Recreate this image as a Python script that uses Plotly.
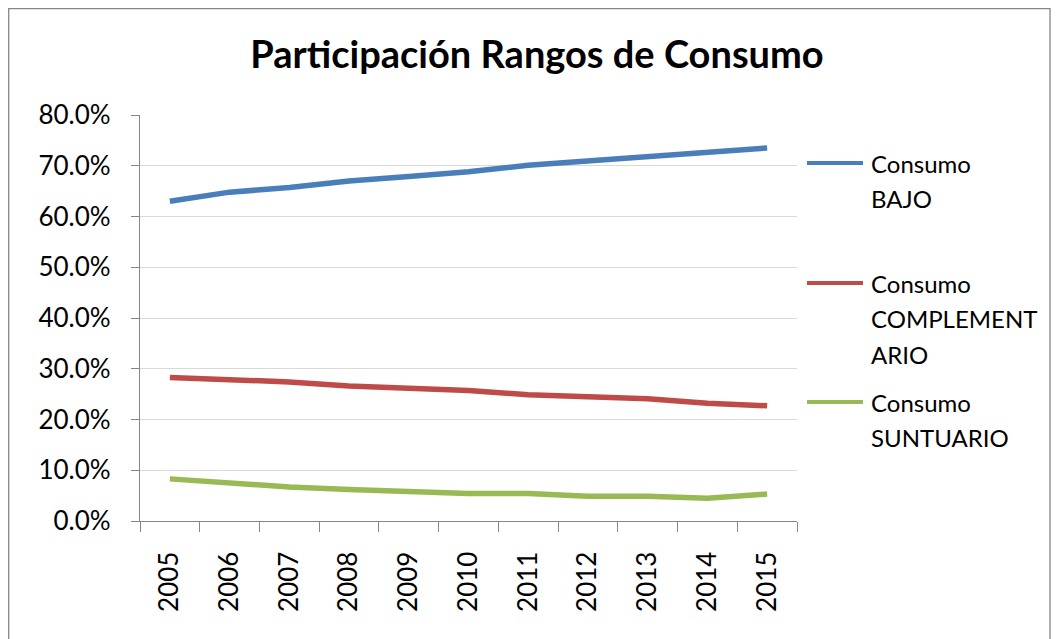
import plotly.graph_objects as go

years = ["2005", "2006", "2007", "2008", "2009", "2010", "2011", "2012", "2013", "2014", "2015"]
bajo = [0.630, 0.648, 0.657, 0.670, 0.679, 0.688, 0.701, 0.710, 0.718, 0.727, 0.735]
complementario = [0.283, 0.279, 0.274, 0.266, 0.262, 0.257, 0.249, 0.245, 0.241, 0.232, 0.227]
suntuario = [0.083, 0.075, 0.067, 0.062, 0.058, 0.054, 0.054, 0.049, 0.049, 0.045, 0.053]

series_names = ["Consumo BAJO", "Consumo COMPLEMENTARIO", "Consumo SUNTUARIO"]
legend_lines = [["Consumo", "BAJO"], ["Consumo", "COMPLEMENT", "ARIO"], ["Consumo", "SUNTUARIO"]]
colors = ["#4a7ebb", "#be4b48", "#98b954"]
y_ticks = [0, 0.1, 0.2, 0.3, 0.4, 0.5, 0.6, 0.7, 0.8]

W, H = 1059, 639
OFF = 8  # page body margin offset
L, R, T, B = 140 - OFF, 797 - OFF, 115 - OFF, 521 - OFF
FONT = "Lato, Carlito, 'Liberation Sans', sans-serif"

fig = go.Figure()
for name, vals, c in zip(series_names, [bajo, complementario, suntuario], colors):
    fig.add_trace(go.Scatter(x=years, y=vals, name=name, mode="lines",
                             line=dict(color=c, width=5.5), showlegend=False))

def px(xs):
    return (xs - OFF - L) / (R - L)

def py(ys):
    return (B - (ys - OFF)) / (B - T)

shapes = []
annotations = []
# outer chart border
shapes.append(dict(type="rect", xref="paper", yref="paper",
                   x0=px(8.7), x1=px(1050), y0=py(660), y1=py(8.7),
                   line=dict(color="#868686", width=1.3), layer="below"))
# manual legend
legend_y = [163, 283, 402]
for lines, c, ly in zip(legend_lines, colors, legend_y):
    shapes.append(dict(type="line", xref="paper", yref="paper",
                       x0=px(807), x1=px(863), y0=py(ly), y1=py(ly),
                       line=dict(color=c, width=4)))
    for i, t in enumerate(lines):
        annotations.append(dict(text=t, xref="paper", yref="paper",
                                x=px(869), y=py(ly + 35.5 * i),
                                xanchor="left", yanchor="middle", showarrow=False,
                                font=dict(family=FONT, size=24, color="#000000")))

fig.update_layout(
    width=W, height=H,
    margin=dict(l=L, r=W - R, t=T, b=H - B),
    paper_bgcolor="white", plot_bgcolor="white",
    title=dict(text="<b>Participación Rangos de Consumo</b>", x=(537 - OFF) / W, xanchor="center",
               y=1 - (55 - OFF) / H, yanchor="middle",
               font=dict(family=FONT, size=38, color="#000000")),
    font=dict(family=FONT, size=26, color="#000000"),
    shapes=shapes, annotations=annotations,
    xaxis=dict(type="category", tickson="boundaries", ticks="outside", ticklen=10,
               range=[-0.5, 10.5], automargin=False,
               tickcolor="#868686", showline=True, linecolor="#868686", linewidth=1.3,
               showgrid=False, tickangle=-90, tickfont=dict(size=26),
               ticklabelstandoff=19),
    yaxis=dict(range=[0, 0.8], tickvals=y_ticks, tickformat=".1%", ticks="outside",
               automargin=False, ticklabelstandoff=15,
               ticklen=8, tickcolor="#868686", showline=True, linecolor="#868686",
               linewidth=1.3, showgrid=True, gridcolor="#d9d9d9", gridwidth=1.3,
               zeroline=False, tickfont=dict(size=26)),
)

fig.write_html("out.html")
